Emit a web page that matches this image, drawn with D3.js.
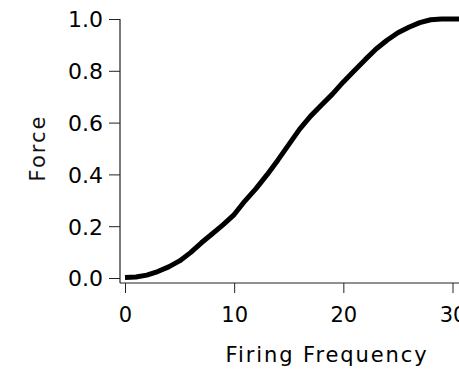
<!DOCTYPE html>
<html><head><meta charset="utf-8">
<script src="https://cdn.jsdelivr.net/npm/d3@7/dist/d3.min.js"></script>
<style>body{margin:0;background:#fff;} svg{display:block;}</style>
</head><body>
<script>
const frequency = [0,1,2,3,4,5,6,7,8,9,10,11,12,13,14,15,16,17,18,19,20,21,22,23,24,25,26,27,28,29,30,31];
const force = [0.002,0.004,0.011,0.025,0.043,0.066,0.098,0.136,0.171,0.206,0.245,0.298,0.345,0.398,0.455,0.515,0.575,0.625,0.668,0.710,0.757,0.80,0.843,0.884,0.918,0.947,0.968,0.986,0.997,1.0,1.0,1.0];
const xTicks = [0,10,20,30];
const yTicks = [0,0.2,0.4,0.6,0.8,1.0];
const xLabel = "Firing Frequency";
const yLabel = "Force";

const W = 459, H = 374;
const svg = d3.select("body").append("svg").attr("width", W).attr("height", H);
const x = d3.scaleLinear().domain([0,30]).range([125,452.5]);
const y = d3.scaleLinear().domain([0,1]).range([278,19]);
const axisX = 120, axisY = 283;
const font = "DejaVu Sans, sans-serif";

// y axis
const ya = svg.append("g").attr("transform", `translate(${axisX},0)`)
  .call(d3.axisLeft(y).tickValues(yTicks).tickFormat(d3.format(".1f")).tickSize(11).tickPadding(6).tickSizeOuter(0));
ya.select(".domain").remove();
ya.selectAll(".tick line").attr("stroke", "#222");
ya.selectAll(".tick text").attr("font-family", font).attr("font-size", 22).attr("fill", "#000").attr("dy", "0.36em");
svg.append("line").attr("x1", axisX).attr("x2", axisX).attr("y1", y(1)).attr("y2", axisY).attr("stroke", "#222").attr("stroke-width", 1.2);

// x axis
const xa = svg.append("g").attr("transform", `translate(0,${axisY})`)
  .call(d3.axisBottom(x).tickValues(xTicks).tickFormat(d3.format("d")).tickSize(10).tickPadding(14).tickSizeOuter(0));
xa.select(".domain").remove();
xa.selectAll(".tick line").attr("stroke", "#222");
xa.selectAll(".tick text").attr("font-family", font).attr("font-size", 21).attr("fill", "#000");
svg.append("line").attr("x1", axisX).attr("x2", W + 5).attr("y1", axisY).attr("y2", axisY).attr("stroke", "#222").attr("stroke-width", 1.2);

// curve
const line = d3.line().x((d,i) => x(frequency[i])).y(d => y(d)).curve(d3.curveLinear);
svg.append("path").datum(force).attr("d", line).attr("fill", "none").attr("stroke", "#000").attr("stroke-width", 5).attr("stroke-linejoin", "round").attr("stroke-linecap", "butt");

// labels
svg.append("text").attr("x", 327).attr("y", 362).attr("text-anchor", "middle")
  .attr("font-family", font).attr("font-size", 21).attr("letter-spacing", 1.9).attr("fill", "#000").text(xLabel);
svg.append("text").attr("transform", "translate(45,148) rotate(-90)").attr("text-anchor", "middle")
  .attr("font-family", font).attr("font-size", 21).attr("letter-spacing", 2).attr("fill", "#111").text(yLabel);
</script>
</body></html>
